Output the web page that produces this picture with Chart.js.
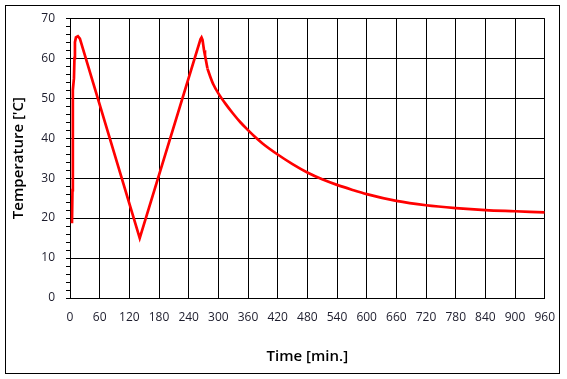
<!DOCTYPE html>
<html>
<head>
<meta charset="utf-8">
<script src="https://cdn.jsdelivr.net/npm/chart.js@4"></script>
<style>
  html, body { margin: 0; padding: 0; background: #fff; }
  #wrap { width: 567px; height: 379px; }
</style>
</head>
<body>
<div id="wrap"><canvas id="tempChart" width="567" height="379"></canvas></div>
<script>
// --- Data ---
// heating / cooling ramps (straight segments)
const rampTime = [4, 5, 5.5, 6, 8, 9, 10, 12, 16, 20, 141, 264, 266, 268, 271, 273, 278];
const rampTemp = [18.7, 27, 42, 52, 55, 60, 64, 65.2, 65.5, 64.9, 15, 64.8, 65.2, 64.6, 62, 60.7, 57.4];
// free cooling tail (smooth curve)
const coolTime = [278, 283, 290, 300, 315, 330, 345, 360, 375, 390, 420, 450, 480, 510, 540, 570, 600, 660, 720, 780, 840, 900, 960];
const coolTemp = [57.4, 55.6, 53.4, 51.2, 48.5, 46.1, 43.9, 42.0, 40.2, 38.6, 35.9, 33.5, 31.4, 29.7, 28.3, 27.1, 26.0, 24.3, 23.2, 22.5, 22.0, 21.7, 21.4];

const xTitle = 'Time [min.]';
const yTitle = "Temperature ['C]";

const tickFont = { family: 'Open Sans', size: 12 };
const titleFont = { family: 'Open Sans', size: 15, weight: '600' };

// Outer frame around the whole picture
const framePlugin = {
  id: 'frame',
  beforeDraw(chart) {
    const { ctx } = chart;
    ctx.save();
    ctx.fillStyle = '#fff';
    ctx.fillRect(0, 0, chart.width, chart.height);
    ctx.strokeStyle = '#000';
    ctx.lineWidth = 1;
    ctx.strokeRect(5.5, 5.5, 554, 368);
    ctx.restore();
  }
};

const toPoints = (xs, ys) => xs.map((x, i) => ({ x, y: ys[i] }));

const lineStyle = { borderColor: '#ff0000', borderWidth: 2.7, pointRadius: 0, fill: false };

new Chart(document.getElementById('tempChart'), {
  type: 'line',
  data: {
    datasets: [
      { ...lineStyle, data: toPoints(rampTime, rampTemp), tension: 0 },
      { ...lineStyle, data: toPoints(coolTime, coolTemp), cubicInterpolationMode: 'monotone' },
    ],
  },
  options: {
    responsive: false,
    animation: false,
    layout: { padding: { left: 0, top: 16, right: 22, bottom: 0 } },
    plugins: { legend: { display: false }, tooltip: { enabled: false } },
    scales: {
      x: {
        type: 'linear',
        min: 0,
        max: 960,
        afterFit: (s) => { s.height = 81; },
        ticks: { stepSize: 60, color: '#1c1c2c', font: tickFont, padding: 12, maxRotation: 0, autoSkip: false },
        grid: { color: '#000', lineWidth: 1, drawTicks: false },
        border: { color: '#000', width: 1 },
        title: { display: true, text: xTitle, color: '#000', font: titleFont, padding: { top: 0, bottom: 13 } },
      },
      y: {
        min: 0,
        max: 70,
        afterFit: (s) => { s.width = 70; },
        ticks: {
          stepSize: 2,
          autoSkip: false,
          color: '#1c1c2c',
          font: tickFont,
          padding: 11,
          callback: (v) => (v % 10 === 0 ? v : ''),
        },
        grid: {
          color: (c) => (c.tick && c.tick.value % 10 === 0 ? '#000' : 'rgba(0,0,0,0)'),
          tickColor: '#000',
          tickLength: 4,
          lineWidth: 1,
        },
        border: { color: '#000', width: 1 },
        title: { display: true, text: yTitle, color: '#000', font: titleFont, padding: { top: 10, bottom: 0 } },
      },
    },
  },
  plugins: [framePlugin],
});
</script>
</body>
</html>
